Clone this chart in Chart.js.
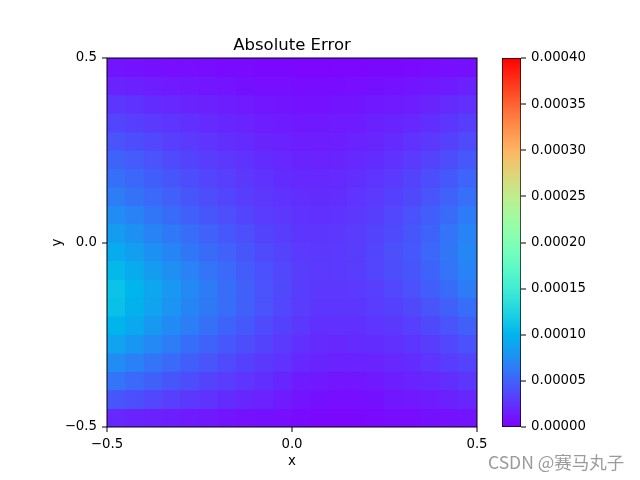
<!DOCTYPE html>
<html>
<head>
<meta charset="utf-8">
<script src="https://cdn.jsdelivr.net/npm/chart.js@4.4.1/dist/chart.umd.min.js"></script>
<style>
body { margin: 0; background: #fff; }
#wrap { position: relative; width: 640px; height: 480px; }
#wrap canvas { position: absolute; left: 0; top: 0; }
#mark { position: absolute; left: 488px; top: 449px; font-family: 'Noto Sans CJK SC', sans-serif; font-size: 17.5px; color: #9a9a9a; white-space: nowrap; }
</style>
</head>
<body>
<div id="wrap">
  <canvas id="heat" width="640" height="480"></canvas>
  <canvas id="cbar" width="640" height="480"></canvas>
  <div id="mark">CSDN @赛马丸子</div>
</div>
<script>
// grid is nCols x nRows cells over [-0.5, 0.5] x [-0.5, 0.5]
const nCols = 20;
const nRows = 20;
const xTicks = [-0.5, 0.0, 0.5];
const yTicks = [-0.5, 0.0, 0.5];
const cbarTicks = [0, 0.00005, 0.0001, 0.00015, 0.0002, 0.00025, 0.0003, 0.00035, 0.0004];
const vMin = 0;
const vMax = 0.0004;
const scale = 1e-5;

// absolute error in units of 1e-5, first row is the top (y = 0.5), first column is x = -0.5
const errRows = [
  [1.0,0.9,0.8,0.7,0.7,0.6,0.5,0.5,0.4,0.4,0.3,0.3,0.3,0.3,0.4,0.4,0.5,0.6,0.7,0.8],
  [1.8,1.6,1.5,1.3,1.2,1.1,1.0,0.8,0.7,0.7,0.6,0.6,0.6,0.7,0.8,0.9,1.0,1.2,1.4,1.6],
  [2.7,2.5,2.2,2.0,1.8,1.6,1.5,1.3,1.1,1.0,0.9,0.9,1.0,1.0,1.2,1.3,1.5,1.8,2.1,2.4],
  [3.5,3.2,2.9,2.6,2.4,2.1,1.9,1.7,1.5,1.4,1.2,1.2,1.3,1.4,1.6,1.8,2.0,2.3,2.7,3.1],
  [4.3,3.9,3.6,3.2,2.9,2.6,2.3,2.1,1.8,1.7,1.5,1.5,1.5,1.7,1.9,2.1,2.5,2.8,3.3,3.8],
  [5.1,4.7,4.2,3.8,3.4,3.1,2.8,2.5,2.2,2.0,1.8,1.7,1.8,2.0,2.2,2.5,2.9,3.4,3.9,4.5],
  [5.8,5.3,4.8,4.4,3.9,3.5,3.2,2.8,2.5,2.2,2.0,2.0,2.1,2.3,2.6,2.9,3.4,3.9,4.5,5.2],
  [6.5,5.9,5.4,4.9,4.4,3.9,3.5,3.1,2.8,2.5,2.3,2.2,2.3,2.6,2.9,3.3,3.7,4.3,5.0,5.8],
  [7.4,6.8,6.1,5.5,4.9,4.4,4.0,3.5,3.0,2.8,2.5,2.4,2.5,2.8,3.1,3.6,4.1,4.8,5.5,6.4],
  [8.4,7.7,6.9,6.3,5.6,5.0,4.5,4.0,3.4,3.1,2.7,2.7,2.8,3.0,3.4,3.8,4.4,5.1,6.0,6.9],
  [9.4,8.6,7.7,7.0,6.2,5.5,5.0,4.4,3.8,3.4,2.9,2.8,2.9,3.1,3.5,4.0,4.5,5.3,6.1,7.1],
  [10.3,9.4,8.4,7.6,6.8,6.0,5.4,4.7,4.1,3.6,3.1,2.9,2.9,3.1,3.5,3.9,4.4,5.1,6.0,6.9],
  [11.0,10.0,9.0,8.1,7.2,6.4,5.6,4.9,4.2,3.7,3.1,2.8,2.8,2.9,3.2,3.6,4.1,4.8,5.5,6.4],
  [10.8,9.8,8.8,7.9,7.0,6.3,5.6,4.9,4.2,3.6,3.0,2.7,2.7,2.7,3.0,3.3,3.7,4.3,4.9,5.7],
  [10.0,9.1,8.2,7.3,6.5,5.8,5.1,4.5,3.8,3.3,2.8,2.4,2.4,2.4,2.6,2.8,3.2,3.7,4.2,4.9],
  [8.8,8.0,7.2,6.5,5.7,5.1,4.5,3.9,3.4,2.9,2.4,2.1,2.0,2.1,2.2,2.4,2.7,3.1,3.6,4.1],
  [7.4,6.7,6.0,5.4,4.8,4.3,3.8,3.3,2.8,2.5,2.0,1.8,1.7,1.7,1.8,2.0,2.2,2.6,3.0,3.4],
  [6.0,5.4,4.9,4.4,3.9,3.4,3.0,2.6,2.3,1.9,1.4,1.2,1.1,1.1,1.2,1.5,1.7,2.0,2.3,2.7],
  [4.4,4.0,3.6,3.2,2.8,2.5,2.2,1.9,1.7,1.4,1.0,0.8,0.7,0.7,0.8,1.1,1.2,1.4,1.6,1.9],
  [2.0,1.8,1.6,1.5,1.3,1.2,1.0,0.9,0.8,0.7,0.5,0.4,0.4,0.4,0.5,0.6,0.6,0.8,0.9,1.0]
];

Chart.defaults.font.family = 'DejaVu Sans';
Chart.defaults.font.size = 13.3;
Chart.defaults.color = '#000';

// matplotlib 'rainbow' colormap
function rainbow(t) {
  t = Math.min(1, Math.max(0, t));
  const r = Math.min(1, Math.abs(2 * t - 0.5));
  const g = Math.sin(Math.PI * t);
  const b = Math.cos(Math.PI * t / 2);
  return `rgb(${Math.round(r * 255)},${Math.round(g * 255)},${Math.round(b * 255)})`;
}

function fmtTick(v) {
  return (v < 0 ? '\u2212' : '') + Math.abs(v).toFixed(1);
}

const frame = {
  id: 'frame',
  afterDatasetsDraw(chart) {
    const a = chart.chartArea;
    const ctx = chart.ctx;
    ctx.save();
    ctx.strokeStyle = '#000';
    ctx.lineWidth = 1;
    ctx.strokeRect(a.left, a.top, a.right - a.left, a.bottom - a.top);
    ctx.restore();
  }
};

const xCenters = [];
for (let i = 0; i < nCols; i++) xCenters.push(-0.5 + (i + 0.5) / nCols);

const cellColor = ctx => rainbow((ctx.raw.v - vMin) / (vMax - vMin));

const heatSets = errRows.map((row, j) => {
  const yHi = 0.5 - j / nRows;
  const yLo = 0.5 - (j + 1) / nRows;
  return {
    data: row.map((v, i) => ({ x: xCenters[i], y: [yLo, yHi], v: v * scale })),
    backgroundColor: cellColor,
    borderColor: cellColor,
    borderWidth: 1,
    borderSkipped: false,
    inflateAmount: 0.5,
    grouped: false,
    barPercentage: 1,
    categoryPercentage: 1
  };
});

new Chart(document.getElementById('heat'), {
  type: 'bar',
  data: { datasets: heatSets },
  options: {
    responsive: false,
    animation: false,
    layout: { padding: { left: 50, right: 163, top: 36, bottom: 10 } },
    plugins: {
      legend: { display: false },
      tooltip: { enabled: false },
      title: {
        display: true,
        text: 'Absolute Error',
        fullSize: false,
        color: '#000',
        font: { size: 16.5, weight: 'normal' },
        padding: { top: 0, bottom: 2.2 }
      }
    },
    scales: {
      x: {
        type: 'linear',
        min: -0.5,
        max: 0.5,
        offset: false,
        afterBuildTicks: s => { s.ticks = xTicks.map(v => ({ value: v })); },
        ticks: { callback: fmtTick, padding: 5, maxRotation: 0, autoSkip: false },
        grid: { drawOnChartArea: false, offset: false, lineWidth: 0, tickWidth: 1, tickLength: 5, tickColor: '#000' },
        border: { display: false },
        title: { display: true, text: 'x', padding: 0 },
        afterFit: s => { s.height = 43; }
      },
      y: {
        type: 'linear',
        min: -0.5,
        max: 0.5,
        afterBuildTicks: s => { s.ticks = yTicks.map(v => ({ value: v })); },
        ticks: { callback: fmtTick, padding: 5, autoSkip: false },
        grid: { drawOnChartArea: false, lineWidth: 0, tickWidth: 1, tickLength: 5, tickColor: '#000' },
        border: { display: false },
        title: { display: true, text: 'y', padding: 0 },
        afterFit: s => { s.width = 57; }
      }
    }
  },
  plugins: [frame]
});

function cbarGradient(chart) {
  const a = chart.chartArea;
  if (!a) return null;
  const ys = chart.scales.y;
  const g = chart.ctx.createLinearGradient(0, ys.getPixelForValue(vMin), 0, ys.getPixelForValue(vMax));
  for (let k = 0; k <= 32; k++) g.addColorStop(k / 32, rainbow(k / 32));
  return g;
}

new Chart(document.getElementById('cbar'), {
  type: 'bar',
  data: {
    labels: [''],
    datasets: [{
      data: [[vMin, vMax]],
      backgroundColor: ctx => cbarGradient(ctx.chart),
      borderColor: '#000',
      borderWidth: 1,
      borderSkipped: false,
      barPercentage: 1,
      categoryPercentage: 1
    }]
  },
  options: {
    responsive: false,
    animation: false,
    layout: { padding: { left: 502, right: 29, top: 58, bottom: 53 } },
    plugins: { legend: { display: false }, tooltip: { enabled: false } },
    scales: {
      x: { display: false },
      y: {
        position: 'right',
        min: vMin,
        max: vMax,
        afterBuildTicks: s => { s.ticks = cbarTicks.map(v => ({ value: v })); },
        ticks: { callback: v => v.toFixed(5), padding: 5, autoSkip: false },
        grid: { drawOnChartArea: false, lineWidth: 0, tickWidth: 1, tickLength: 5, tickColor: '#000' },
        border: { display: false },
        afterFit: s => { s.width = 90; }
      }
    }
  }
});
</script>
</body>
</html>
